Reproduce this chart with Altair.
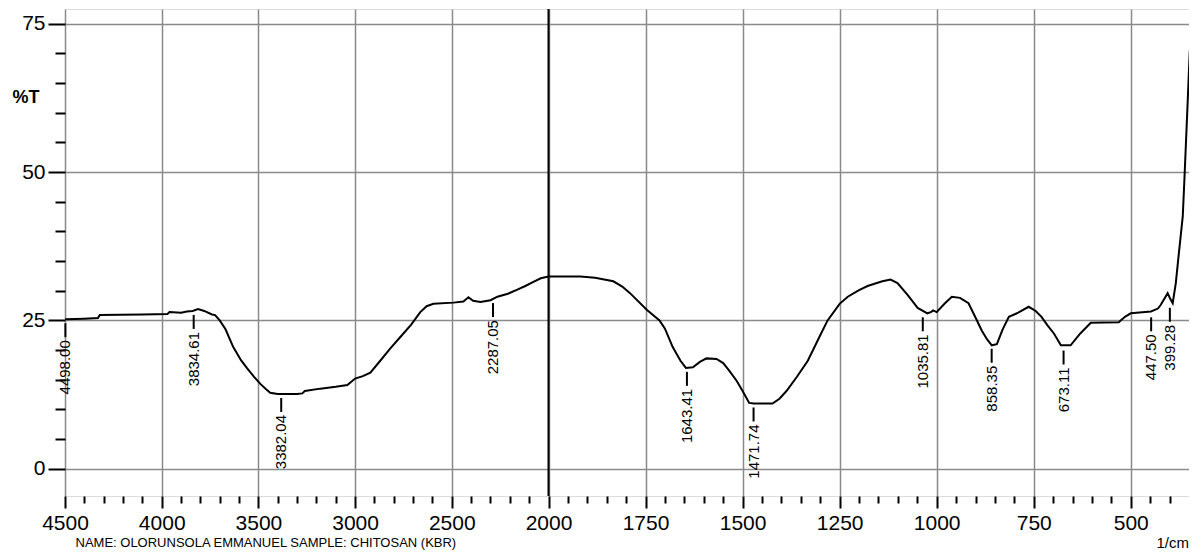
import altair as alt
import pandas as pd

# ---- data ----
wavenumber = [4500, 4400, 4330, 4320, 4100, 3970, 3960, 3900, 3870, 3840, 3812, 3780,
              3740, 3724, 3700, 3670, 3630, 3590, 3558, 3520, 3490, 3460, 3439, 3400,
              3382, 3300, 3273, 3260, 3180, 3100, 3040, 3000, 2960, 2921, 2870, 2820,
              2766, 2710, 2663, 2630, 2595, 2492, 2440, 2414, 2390, 2352, 2300, 2264,
              2210, 2161, 2120, 2078, 2040, 2000, 1918, 1880, 1833, 1810, 1790, 1747,
              1714, 1700, 1680, 1660, 1646, 1628, 1610, 1593, 1567, 1550, 1534, 1515,
              1500, 1483, 1471, 1423, 1405, 1387, 1360, 1332, 1300, 1281, 1250, 1229,
              1200, 1178, 1140, 1119, 1101, 1075, 1049, 1024, 1015, 1009, 1000, 980,
              961, 940, 918, 900, 884, 870, 858, 845, 830, 814, 790, 763, 745, 730,
              715, 698, 680, 655, 630, 603, 531, 515, 500, 448, 430, 423, 405, 398,
              392, 384, 376, 366, 361, 353, 348]
transmittance = [25.2, 25.3, 25.4, 25.9, 26.0, 26.1, 26.4, 26.3, 26.5, 26.6, 26.9, 26.6,
                 26.0, 25.9, 25.0, 23.5, 20.5, 18.3, 16.9, 15.4, 14.3, 13.4, 12.8, 12.6,
                 12.6, 12.6, 12.7, 13.1, 13.5, 13.8, 14.1, 15.2, 15.6, 16.2, 18.2, 20.2,
                 22.2, 24.3, 26.4, 27.4, 27.8, 28.0, 28.2, 28.9, 28.3, 28.1, 28.4, 29.0,
                 29.5, 30.2, 30.8, 31.5, 32.1, 32.4, 32.4, 32.2, 31.6, 30.7, 29.6, 26.8,
                 25.0, 23.6, 20.5, 18.2, 17.0, 17.1, 18.0, 18.6, 18.5, 17.8, 16.5, 14.8,
                 13.1, 11.1, 11.0, 11.0, 11.8, 13.1, 15.5, 18.2, 22.5, 25.0, 27.8, 29.0,
                 30.1, 30.8, 31.6, 31.9, 31.3, 29.3, 27.1, 26.2, 26.4, 26.7, 26.4, 27.8,
                 29.0, 28.8, 27.9, 25.5, 23.3, 21.8, 20.8, 21.0, 23.5, 25.6, 26.3, 27.3,
                 26.6, 25.6, 24.2, 22.8, 20.8, 20.8, 22.8, 24.6, 24.7, 25.6, 26.2, 26.5,
                 27.0, 27.6, 29.6, 28.6, 27.9, 31.3, 36.4, 42.6, 50.0, 62.5, 70.5]

peak_wn = [4498.00, 3834.61, 3382.04, 2287.05, 1643.41, 1471.74, 1035.81, 858.35,
           673.11, 447.50, 399.28]
peak_t = [25.2, 26.6, 12.6, 28.6, 17.0, 11.0, 26.2, 20.9, 20.6, 26.2, 27.8]
peak_labels = ["4498.00", "3834.61", "3382.04", "2287.05", "1643.41", "1471.74",
               "1035.81", "858.35", "673.11", "447.50", "399.28"]

x_major = [4500, 4000, 3500, 3000, 2500, 2000, 1750, 1500, 1250, 1000, 750, 500]
x_minor = list(range(4500, 2000, -100)) + list(range(2000, 399, -50))
y_major = [0, 25, 50, 75]
y_minor = list(range(0, 76, 5))

caption = "NAME: OLORUNSOLA EMMANUEL SAMPLE: CHITOSAN (KBR)"
unit_text = ["1/cm"]
y_title = "%T"

# ---- layout ----
W, H = 1124, 487
SPLIT = 483.5
FONT = "Liberation Sans Narrow, Arial Narrow, Liberation Sans, Arial, sans-serif"

spec = pd.DataFrame({"wn": wavenumber, "t": transmittance})
peaks = pd.DataFrame({"wn": peak_wn, "t": peak_t, "label": peak_labels})
divider = pd.DataFrame({"wn": [2000]})
unit_df = pd.DataFrame({"txt": unit_text})

major_list = "[" + ",".join(str(v) for v in x_major) + "]"
x_is_major = f"indexof({major_list}, datum.value) >= 0"
y_major_list = "[" + ",".join(str(v) for v in y_major) + "]"
y_is_major = f"indexof({y_major_list}, datum.value) >= 0"

x_scale = alt.Scale(domain=[4500, 2000, 350], range=[0, SPLIT, W], nice=False, zero=False)
y_scale = alt.Scale(domain=[-4.6, 77.5], nice=False, zero=False)

x_values = sorted(set(x_minor) | set(x_major), reverse=True)

x_axis = alt.Axis(
    values=x_values,
    tickCount=500,
    format="d",
    orient="bottom",
    domain=False,
    tickColor="black",
    tickWidth=2,
    tickSize={"condition": {"test": x_is_major, "value": 12}, "value": 7},
    labelExpr=f"{x_is_major} ? datum.label : ''",
    labelFont=FONT,
    labelFontSize=21,
    labelColor="black",
    labelPadding=4,
    labelFlush=False,
    labelOverlap=False,
    grid=True,
    gridColor="#8a8a8a",
    gridWidth=1.5,
    gridOpacity={"condition": {"test": x_is_major, "value": 1}, "value": 0},
    title=caption,
    titleFont=FONT,
    titleFontSize=13,
    titleFontWeight="normal",
    titleColor="black",
    titleAlign="left",
    titleBaseline="top",
    titleX=10,
    titleY=40,
)

y_axis = alt.Axis(
    values=y_minor,
    tickCount=500,
    format="d",
    orient="left",
    domain=False,
    tickColor="black",
    tickWidth=2,
    tickSize={"condition": {"test": y_is_major, "value": 17}, "value": 10},
    labelExpr=f"{y_is_major} ? datum.label : ''",
    labelFont=FONT,
    labelFontSize=21,
    labelColor="black",
    labelPadding=3,
    labelBaseline="middle",
    labelFlush=False,
    labelOverlap=False,
    grid=True,
    gridColor="#8a8a8a",
    gridWidth=1.5,
    gridOpacity={"condition": {"test": y_is_major, "value": 1}, "value": 0},
    title=y_title,
    titleFont=FONT,
    titleFontSize=18,
    titleFontWeight="bold",
    titleColor="black",
    titleAngle=0,
    titleAlign="left",
    titleBaseline="middle",
    titleX=-53,
    titleY=88,
)

base_x = alt.X("wn:Q", scale=x_scale, axis=x_axis)
base_y = alt.Y("t:Q", scale=y_scale, axis=y_axis)

curve = alt.Chart(spec).mark_line(color="black", strokeWidth=2, interpolate="linear").encode(
    x=base_x, y=base_y, order=alt.Order("wn:Q", sort="descending")
)

div_rule = alt.Chart(divider).mark_rule(color="black", strokeWidth=2).encode(
    x=alt.X("wn:Q", scale=x_scale)
)

peak_ticks = alt.Chart(peaks).mark_rule(color="black", strokeWidth=2, yOffset=4, y2Offset=18).encode(
    x=alt.X("wn:Q", scale=x_scale),
    y=alt.Y("t:Q", scale=y_scale),
    y2="t:Q",
)

peak_text = alt.Chart(peaks).mark_text(
    angle=270, align="right", baseline="middle", font=FONT, fontSize=15,
    color="black", yOffset=21,
).encode(
    x=alt.X("wn:Q", scale=x_scale),
    y=alt.Y("t:Q", scale=y_scale),
    text="label:N",
)

unit_mark = alt.Chart(unit_df).mark_text(
    align="right", baseline="top", font=FONT, fontSize=15, color="black"
).encode(
    x=alt.value(W), y=alt.value(H + 40), text="txt:N"
)

chart = alt.layer(div_rule, curve, peak_ticks, peak_text, unit_mark).properties(
    width=W, height=H,
    autosize=alt.AutoSizeParams(type="none"),
    padding={"left": 57, "top": 1, "right": 0, "bottom": 60},
).configure_view(
    stroke="black", strokeWidth=2
).configure(background="white")

chart.save("out.html", embed_options={"renderer": "svg", "actions": False})
